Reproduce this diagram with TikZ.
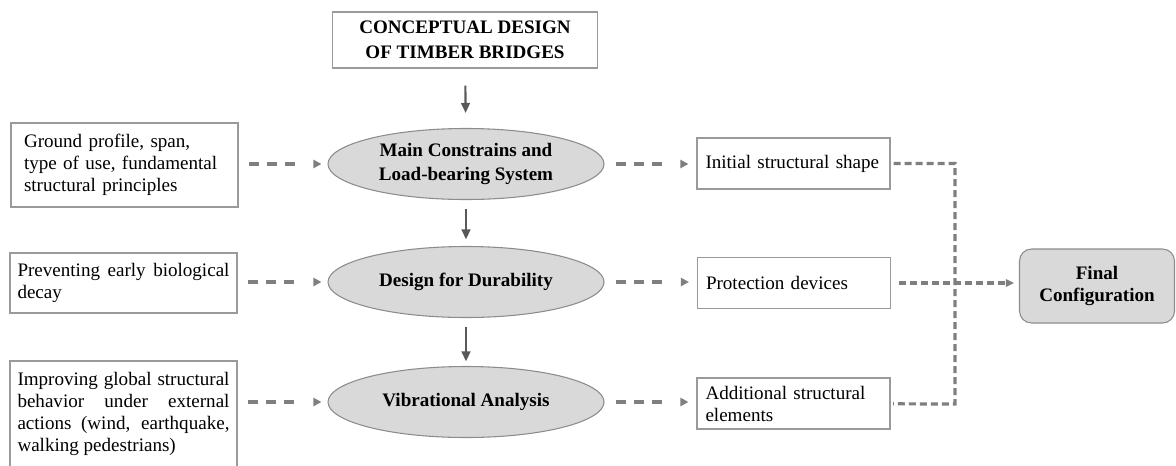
\documentclass[tikz,border=0pt]{standalone}
\usepackage{fontspec}
\setmainfont{Liberation Serif}
\usetikzlibrary{shapes.geometric,arrows.meta}

\definecolor{boxgray}{HTML}{9A9A9A}
\definecolor{dashgray}{HTML}{7F7F7F}
\definecolor{arrowgray}{HTML}{595959}
\definecolor{fillgray}{HTML}{D9D9D9}
\definecolor{ellgray}{HTML}{8C8C8C}

\begin{document}
\begin{tikzpicture}[x=0.75pt,y=-0.75pt,
  regtext/.style={font=\fontsize{14.3}{16.5}\selectfont},
  boldtext/.style={font=\fontsize{14.3}{18}\selectfont\bfseries},
  plainbox/.style={rectangle, draw=boxgray, line width=0.8pt, inner sep=0pt},
  stage/.style={ellipse, draw=ellgray, line width=0.8pt, fill=fillgray,
    minimum width=207pt, minimum height=53.25pt, inner sep=0pt,
    align=center, boldtext},
  inputbox/.style={plainbox, regtext, minimum width=170.25pt},
  outputbox/.style={plainbox, regtext, minimum width=144.75pt,
    minimum height=38.25pt, text width=132pt, align=left},
  mainflow/.style={draw=arrowgray, line width=1.6pt,
    -{Triangle[length=7.5pt,width=6.5pt]}},
  sideflow/.style={draw=dashgray, line width=2.4pt,
    dash pattern=on 7.5pt off 6pt on 7.5pt off 6pt on 7.5pt off 30pt,
    -{Triangle[length=6pt,width=6pt]},
    shorten <=7.5pt, shorten >=4.5pt},
  outflow/.style={draw=dashgray, line width=2.4pt,
    dash pattern=on 7.5pt off 6pt on 7.5pt off 6pt on 7.5pt off 30pt,
    -{Triangle[length=6pt,width=6pt]},
    shorten <=8.25pt, shorten >=6pt},
  busline/.style={draw=dashgray, line width=2.4pt, dash pattern=on 5.25pt off 3pt}
]
\useasboundingbox (0,0) rectangle (1176,465);
\clip (0,0) rectangle (1176,465);

% title
\node[plainbox, minimum width=198.75pt, minimum height=42pt,
  align=center, font=\fontsize{14.3}{18.75}\selectfont\bfseries]
  (title) at (465,40) {CONCEPTUAL DESIGN\\OF TIMBER BRIDGES};

% design stages
\node[stage] (E1) at (466,164) {Main Constrains and\\Load-bearing System};
\node[stage] (E2) at (466,282) {Design for Durability};
\node[stage] (E3) at (466,402) {Vibrational Analysis};

% inputs on the left
\node[inputbox, minimum height=63pt, text width=150.75pt, align=left]
  (L1) at (124.5,165) {Ground profile, span,\\type of use, fundamental\\structural principles};
\node[inputbox, minimum height=45pt, text width=159pt, align=justify]
  (L2) at (123.5,283) {Preventing early biological\linebreak decay};
\node[inputbox, minimum height=79.5pt, text width=159pt, align=justify]
  (L3) at (123.5,414) {Improving global structural\linebreak behavior under external\linebreak actions (wind, earthquake,\linebreak walking pedestrians)};

% outputs on the right
\node[outputbox] (R1) at (793.5,163.5) {Initial structural shape};
\node[outputbox] (R2) at (794,283) {Protection devices};
\node[outputbox] (R3) at (793.5,403.5) {Additional structural\\elements};

% final result
\node[rectangle, rounded corners=9pt, draw=ellgray, line width=0.8pt,
  fill=fillgray, minimum width=116.25pt, minimum height=55.5pt,
  align=center, font=\fontsize{14.3}{16.5}\selectfont\bfseries]
  (F) at (1097,286) {Final\\Configuration};

% main sequence
\draw[mainflow, shorten <=12.75pt, shorten >=11.25pt] (title) -- (E1);
\draw[mainflow, shorten <=7pt, shorten >=4.9pt] (E1) -- (E2);
\draw[mainflow, shorten <=6.4pt, shorten >=3.4pt] (E2) -- (E3);

% inputs into stages
\draw[sideflow] (L1.east |- E1) -- (E1);
\draw[sideflow] (L2.east |- E2) -- (E2);
\draw[sideflow] (L3.east |- E3) -- (E3);

% stages into outputs
\draw[outflow] (E1) -- (E1 -| R1.west);
\draw[outflow] (E2) -- (E2 -| R2.west);
\draw[outflow] (E3) -- (E3 -| R3.west);

% collecting line
\coordinate (b1) at (955,163.5);
\coordinate (b3) at (955,404);
\draw[busline, shorten <=2.25pt, shorten >=2pt] (R1) -- (b1) -- (b3) -- (R3);
\draw[busline, -{Triangle[length=6pt,width=5.5pt]}, shorten <=6pt, shorten >=3.75pt]
  (R2) -- (R2 -| F.west);
\end{tikzpicture}
\end{document}
